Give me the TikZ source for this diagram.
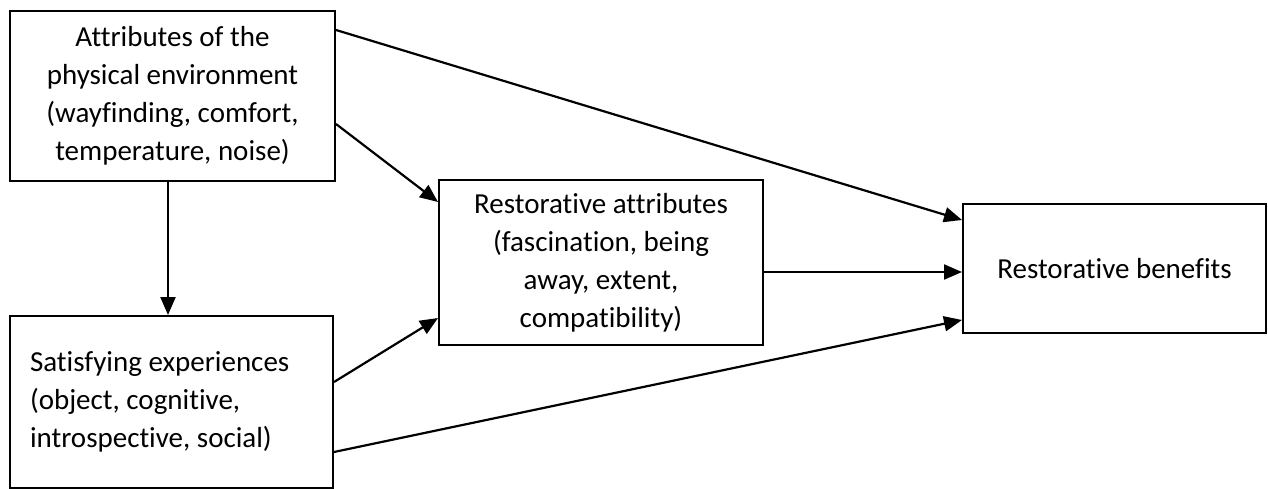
\documentclass[tikz,border=0pt]{standalone}
\usepackage{fontspec}
\setmainfont{Carlito}[Ligatures=NoCommon]
\usetikzlibrary{arrows.meta}
\begin{document}
\begin{tikzpicture}[x=1pt,y=1pt,
  box/.style={draw,line width=2pt,rectangle,inner sep=0pt,font=\fontsize{29}{38}\selectfont},
  arr/.style={line width=2.2pt,-{Triangle[length=18pt,width=15pt]}}]
\useasboundingbox (0,0) rectangle (1268,-489);
\node[box,minimum width=325pt,minimum height=170pt,text width=300pt,align=flush center] (A) at (172.5,-96)
  {Attributes of the\\physical environment\\(wayfinding, comfort,\\temperature, noise)};
\node[box,minimum width=323pt,minimum height=172pt,text width=283pt,align=flush left] (S) at (171.5,-402)
  {Satisfying experiences\\(object, cognitive,\\introspective, social)};
\node[box,minimum width=324pt,minimum height=165pt,text width=300pt,align=flush center] (R) at (601,-262.5)
  {Restorative attributes\\(fascination, being\\away, extent,\\compatibility)};
\node[box,minimum width=303pt,minimum height=129pt,text width=280pt,align=flush center] (B) at (1114.5,-268.5)
  {Restorative benefits};
\draw[arr] ([yshift=-20pt]A.north east) -- ([yshift=-17pt]B.north west);
\draw[arr] ([yshift=-114pt]A.north east) -- ([yshift=-23pt]R.north west);
\draw[arr] ([xshift=-4.5pt]A.south) -- ([xshift=-3.5pt]S.north);
\draw[arr] ([yshift=-67pt]S.north east) -- ([yshift=28pt]R.south west);
\draw[arr] ([yshift=-137pt]S.north east) -- ([yshift=14pt]B.south west);
\draw[arr] ([yshift=-9.5pt]R.east) -- ([yshift=-9.5pt]R.east -| B.west);
\end{tikzpicture}
\end{document}
